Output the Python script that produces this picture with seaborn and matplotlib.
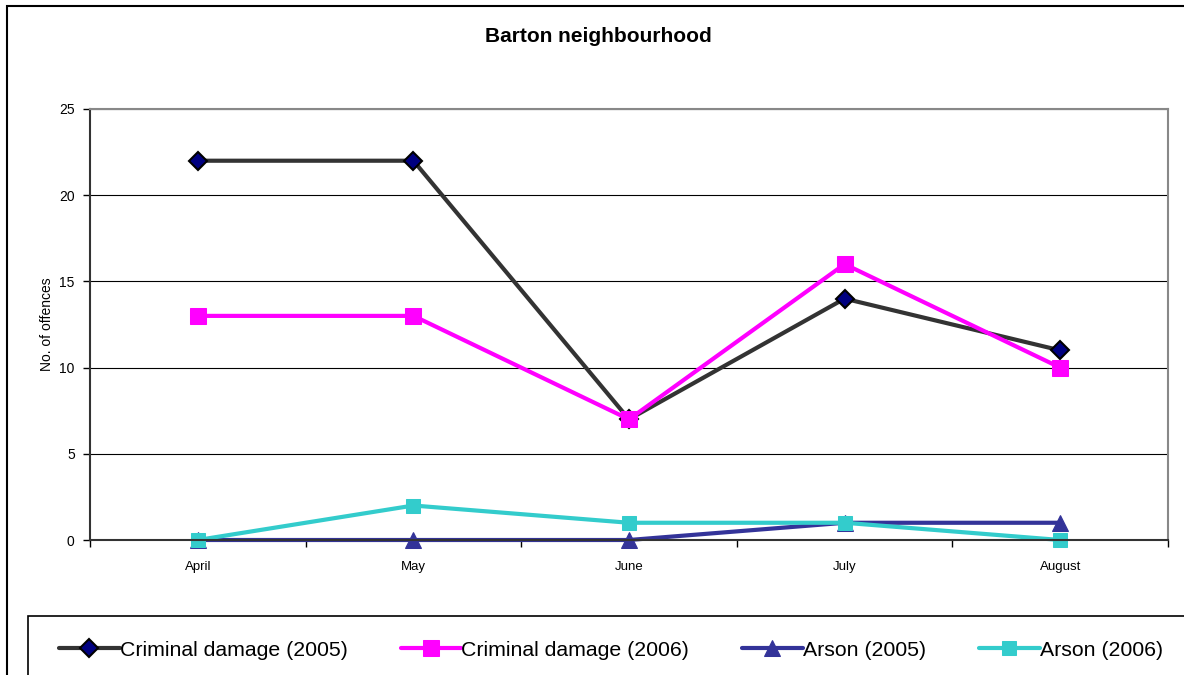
import numpy as np
import pandas as pd
import seaborn as sns
import matplotlib.pyplot as plt
from matplotlib.patches import Rectangle

months = ['April', 'May', 'June', 'July', 'August']
damage_2005 = [22, 22, 7, 14, 11]
damage_2006 = [13, 13, 7, 16, 10]
arson_2005 = [0, 0, 0, 1, 1]
arson_2006 = [0, 2, 1, 1, 0]

series = ['Criminal damage (2005)', 'Criminal damage (2006)', 'Arson (2005)', 'Arson (2006)']
values = [damage_2005, damage_2006, arson_2005, arson_2006]

df = pd.DataFrame({
    'month': months * 4,
    'offences': sum(values, []),
    'series': np.repeat(series, len(months)),
})

styles = {
    'Criminal damage (2005)': dict(color='#333333', marker='D', markersize=9,
                                   markerfacecolor='#000080', markeredgecolor='black', markeredgewidth=1.5),
    'Criminal damage (2006)': dict(color='#FF00FF', marker='s', markersize=12,
                                   markerfacecolor='#FF00FF', markeredgecolor='#FF00FF'),
    'Arson (2005)': dict(color='#333399', marker='^', markersize=12,
                         markerfacecolor='#333399', markeredgecolor='#333399'),
    'Arson (2006)': dict(color='#33CCCC', marker='s', markersize=10,
                         markerfacecolor='#33CCCC', markeredgecolor='#33CCCC'),
}

sns.set_style('white')
plt.rcParams['font.family'] = ['Liberation Sans', 'DejaVu Sans']
plt.rcParams['text.color'] = 'black'
plt.rcParams['axes.labelcolor'] = 'black'
plt.rcParams['xtick.color'] = 'black'
plt.rcParams['ytick.color'] = 'black'

W, H = 1184, 675
fig = plt.figure(figsize=(W / 100, H / 100), dpi=100)
ax = fig.add_axes([90 / W, 135 / H, 1078 / W, 431 / H])

# outer chart frame and legend frame (both run off the picture)
fig.patches.append(Rectangle((7 / W, -0.1), 1.2, 1.1 - 5.5 / H, transform=fig.transFigure,
                             fill=False, edgecolor='black', linewidth=1.5, zorder=0))
fig.patches.append(Rectangle((28 / W, -0.1), 1.2, 0.1 + (H - 616) / H, transform=fig.transFigure,
                             fill=False, edgecolor='black', linewidth=1.2, zorder=0))

for name in series:
    sub = df[df['series'] == name]
    sns.lineplot(data=sub, x='month', y='offences', ax=ax, label=name,
                 linewidth=3, clip_on=False, **styles[name])

ax.set_xlim(-0.5, 4.5)
ax.set_ylim(0, 25)
ax.set_yticks(range(0, 26, 5))
ax.yaxis.grid(True, color='black', linewidth=0.8)
ax.set_axisbelow(True)
ax.set_xticks(range(len(months)))
ax.set_xticklabels(months)
ax.set_xticks(np.arange(-0.5, 5, 1), minor=True)
ax.tick_params(axis='x', which='major', bottom=True, length=0, labelsize=9.5, pad=15)
ax.tick_params(axis='x', which='minor', bottom=True, length=5, width=1, direction='out', color='black')
ax.tick_params(axis='y', left=True, length=5, width=1, direction='out', labelsize=10, color='black', pad=6)
ax.set_xlabel('')
ax.set_ylabel('No. of offences', fontsize=10, labelpad=4)

for side in ['left', 'bottom']:
    ax.spines[side].set_color('#333333')
    ax.spines[side].set_linewidth(1.5)
for side in ['top', 'right']:
    ax.spines[side].set_color('#888888')
    ax.spines[side].set_linewidth(1.5)

fig.text(598 / W, 1 - 37 / H, 'Barton neighbourhood', ha='center', va='center',
         fontsize=15, fontweight='bold')

ax.legend_.remove()
handles, labels = ax.get_legend_handles_labels()
leg = fig.legend(handles, labels, loc='center left', ncol=4,
                 bbox_to_anchor=(59 / W, 1 - 650 / H), frameon=False, fontsize=15.3,
                 handlelength=2.85, handletextpad=0.0, columnspacing=2.5,
                 borderaxespad=0, borderpad=0)

fig.savefig('out.png', dpi=100)
